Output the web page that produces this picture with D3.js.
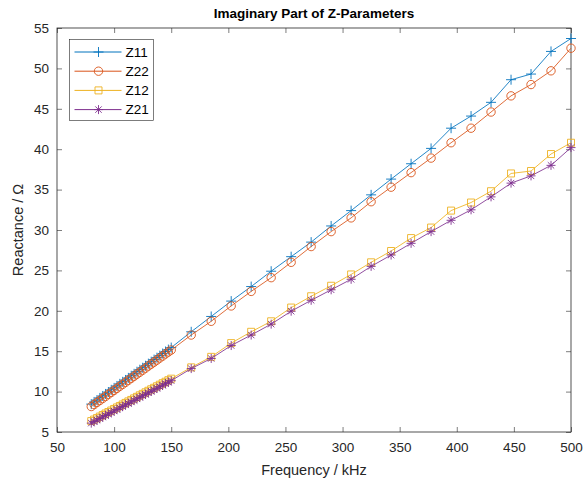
<!DOCTYPE html>
<html>
<head>
<meta charset="utf-8">
<script src="https://cdn.jsdelivr.net/npm/d3@7"></script>
<style>
  body { margin: 0; background: #fff; }
  text { font-family: "Liberation Sans", Arial, sans-serif; }
</style>
</head>
<body>
<div id="chart"></div>
<script>
const freq = [80, 82.5, 85, 87.5, 90, 92.5, 95, 97.5, 100, 102.5, 105, 107.5, 110, 112.5, 115, 117.5,
    120, 122.5, 125, 127.5, 130, 132.5, 135, 137.5, 140, 142.5, 145, 147.5, 150,
    167.5, 185, 202.5, 220, 237.5, 255, 272.5, 290, 307.5, 325, 342.5, 360, 377.5, 395, 412.5,
    430, 447.5, 465, 482.5, 500];

const z11 = [8.45, 8.72, 8.95, 9.22, 9.46, 9.71, 9.95, 10.22, 10.46, 10.7, 10.96, 11.21, 11.44, 11.7, 11.96, 12.2,
    12.46, 12.71, 12.95, 13.2, 13.46, 13.7, 13.96, 14.2, 14.45, 14.71, 14.96, 15.2, 15.45,
    17.4, 19.3, 21.2, 23.0, 24.9, 26.7, 28.5, 30.5, 32.4, 34.35, 36.3, 38.2, 40.1, 42.6, 44.1,
    45.8, 48.6, 49.3, 52.1, 53.7];
const z22 = [8.15, 8.4, 8.66, 8.9, 9.15, 9.4, 9.66, 9.9, 10.15, 10.4, 10.66, 10.9, 11.15, 11.4, 11.65, 11.9,
    12.16, 12.4, 12.65, 12.9, 13.16, 13.4, 13.65, 13.9, 14.16, 14.4, 14.66, 14.9, 15.15,
    17.0, 18.7, 20.6, 22.4, 24.1, 26.0, 27.95, 29.8, 31.5, 33.5, 35.3, 37.1, 38.9, 40.8, 42.6,
    44.6, 46.6, 48.0, 49.7, 52.5];
const z12 = [6.35, 6.54, 6.72, 6.91, 7.1, 7.29, 7.47, 7.66, 7.85, 8.04, 8.22, 8.41, 8.6, 8.79, 8.97, 9.16,
    9.35, 9.54, 9.72, 9.91, 10.1, 10.29, 10.47, 10.66, 10.85, 11.04, 11.22, 11.41, 11.6,
    13.0, 14.3, 16.0, 17.4, 18.7, 20.4, 21.8, 23.1, 24.5, 26.0, 27.4, 29.0, 30.3, 32.4, 33.4,
    34.8, 37.0, 37.3, 39.4, 40.8];
const z21 = [6.1, 6.29, 6.47, 6.66, 6.85, 7.04, 7.22, 7.41, 7.6, 7.79, 7.97, 8.16, 8.35, 8.54, 8.72, 8.91,
    9.1, 9.29, 9.47, 9.66, 9.85, 10.04, 10.22, 10.41, 10.6, 10.79, 10.97, 11.16, 11.35,
    12.85, 14.1, 15.7, 17.0, 18.35, 19.95, 21.3, 22.6, 23.9, 25.5, 26.9, 28.35, 29.8, 31.2, 32.5,
    34.1, 35.8, 36.7, 38.0, 40.2];

const seriesNames = ["Z11", "Z22", "Z12", "Z21"];
const seriesValues = [z11, z22, z12, z21];
const seriesColors = ["#0072BD", "#D95319", "#EDB120", "#7E2F8E"];
const seriesMarkers = ["plus", "circle", "square", "asterisk"];

const xTicks = [50, 100, 150, 200, 250, 300, 350, 400, 450, 500];
const yTicks = [5, 10, 15, 20, 25, 30, 35, 40, 45, 50, 55];

const width = 586;
const height = 483;
const margin = { top: 28, right: 15, bottom: 51, left: 57 };
const innerW = width - margin.left - margin.right;
const innerH = height - margin.top - margin.bottom;
const axisColor = "#262626";

const svg = d3.select("#chart")
    .append("svg")
    .attr("width", width)
    .attr("height", height);

const g = svg.append("g")
    .attr("transform", `translate(${margin.left}, ${margin.top})`);

const x = d3.scaleLinear().domain([50, 500]).range([0, innerW]);
const y = d3.scaleLinear().domain([5, 55]).range([innerH, 0]);

// axes, MATLAB style: ticks point inwards, box all around
const styleAxis = (sel, labels) => {
    sel.select(".domain").remove();
    sel.selectAll(".tick line").attr("stroke", axisColor).attr("stroke-width", 0.6);
    sel.selectAll(".tick text")
        .attr("fill", axisColor)
        .style("font-size", "13.5px");
    if (!labels) sel.selectAll(".tick text").remove();
};

g.append("g")
    .attr("transform", `translate(0, ${innerH})`)
    .call(d3.axisBottom(x).tickValues(xTicks).tickSizeInner(-5).tickSizeOuter(0).tickPadding(10))
    .call(s => styleAxis(s, true));
g.append("g")
    .call(d3.axisTop(x).tickValues(xTicks).tickSizeInner(-5).tickSizeOuter(0))
    .call(s => styleAxis(s, false));
g.append("g")
    .call(d3.axisLeft(y).tickValues(yTicks).tickSizeInner(-5).tickSizeOuter(0).tickPadding(8))
    .call(s => styleAxis(s, true));
g.append("g")
    .attr("transform", `translate(${innerW}, 0)`)
    .call(d3.axisRight(y).tickValues(yTicks).tickSizeInner(-5).tickSizeOuter(0))
    .call(s => styleAxis(s, false));

g.append("rect")
    .attr("width", innerW)
    .attr("height", innerH)
    .attr("fill", "none")
    .attr("stroke", axisColor)
    .attr("stroke-width", 0.8);

const markerPath = (type) => {
    if (type === "plus") return "M-5,0H5M0,-5V5";
    if (type === "asterisk") return "M-4.5,0H4.5M0,-4.5V4.5M-3.2,-3.2L3.2,3.2M-3.2,3.2L3.2,-3.2";
    if (type === "square") return "M-3.5,-3.5H3.5V3.5H-3.5Z";
    return d3.arc()({ innerRadius: 0, outerRadius: 4.2, startAngle: 0, endAngle: 2 * Math.PI });
};

const line = d3.line()
    .x(d => x(d[0]))
    .y(d => y(d[1]));

seriesValues.forEach((vals, i) => {
    const pts = freq.map((f, j) => [f, vals[j]]);
    const sg = g.append("g");
    sg.append("path")
        .datum(pts)
        .attr("d", line)
        .attr("fill", "none")
        .attr("stroke", seriesColors[i])
        .attr("stroke-width", 1)
        .attr("opacity", 0.85);
    sg.selectAll(".mk")
        .data(pts)
        .enter()
        .append("path")
        .attr("transform", d => `translate(${x(d[0])}, ${y(d[1])})`)
        .attr("d", markerPath(seriesMarkers[i]))
        .attr("fill", "none")
        .attr("stroke", seriesColors[i])
        .attr("stroke-width", 0.9);
});

// legend
const legend = svg.append("g").attr("transform", "translate(69.5, 39.5)");
legend.append("rect")
    .attr("width", 84)
    .attr("height", 81)
    .attr("fill", "#fff")
    .attr("stroke", "#262626")
    .attr("stroke-width", 0.6);
seriesNames.forEach((name, i) => {
    const ly = 12.5 + i * 19.2;
    const row = legend.append("g").attr("transform", `translate(0, ${ly})`);
    row.append("line")
        .attr("x1", 5).attr("x2", 52)
        .attr("stroke", seriesColors[i])
        .attr("stroke-width", 1);
    row.append("path")
        .attr("transform", "translate(29, 0)")
        .attr("d", markerPath(seriesMarkers[i]))
        .attr("fill", "none")
        .attr("stroke", seriesColors[i])
        .attr("stroke-width", 0.9);
    row.append("text")
        .attr("x", 56)
        .attr("dy", "0.36em")
        .attr("fill", "#000")
        .style("font-size", "13.5px")
        .text(name);
});

// title and axis labels
svg.append("text")
    .attr("x", margin.left + innerW / 2)
    .attr("y", 18)
    .attr("text-anchor", "middle")
    .style("font-size", "13.5px")
    .style("font-weight", "bold")
    .attr("fill", "#000")
    .text("Imaginary Part of Z-Parameters");

svg.append("text")
    .attr("x", margin.left + innerW / 2)
    .attr("y", 475)
    .attr("text-anchor", "middle")
    .style("font-size", "14.5px")
    .attr("fill", axisColor)
    .text("Frequency / kHz");

svg.append("text")
    .attr("transform", `translate(23, ${margin.top + innerH / 2}) rotate(-90)`)
    .attr("text-anchor", "middle")
    .style("font-size", "14.5px")
    .attr("fill", axisColor)
    .text("Reactance / Ω");
</script>
</body>
</html>
